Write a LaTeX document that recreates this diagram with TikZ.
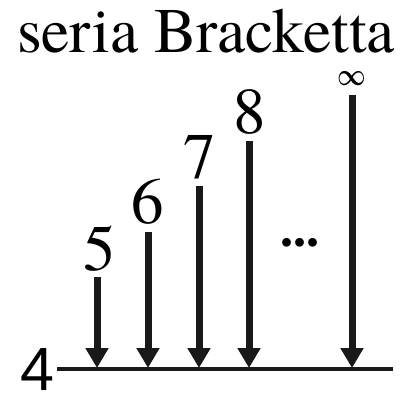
\documentclass[tikz,border=0pt]{standalone}
\usepackage{fontspec}
\setmainfont{texgyretermes}[Extension=.otf, UprightFont=*-regular, BoldFont=*-bold]
\newfontfamily\levelsans{Liberation Sans}
\usetikzlibrary{arrows.meta}

\begin{document}
\begin{tikzpicture}[
    x=1pt, y=-1pt,
    every node/.style={inner sep=0pt, text=black},
    title/.style={font=\fontsize{63.5}{63.5}\selectfont, anchor=base},
    numlabel/.style={font=\fontsize{65}{65}\selectfont, anchor=base},
    levelline/.style={line width=4pt, black!90},
    transition/.style={line width=7pt, black!90,
                -{Triangle[width=22pt,length=20pt]}}
]
  \useasboundingbox (0,0) rectangle (403,392);

  % --- Title ---
  \node[title] (title) at (206,52) {seria Bracketta};

  % --- Level n=4 ---
  \node[font=\levelsans\fontsize{61}{61}\selectfont, anchor=base] (lvl) at (37,390) {4};
  \coordinate (lineL) at (57,369);
  \coordinate (lineR) at (393,369);
  \draw[levelline] (lineL) -- (lineR);

  % --- Upper levels ---
  \node[numlabel] (n5) at (100,270) {5};
  \node[numlabel] (n6) at (148,223) {6};
  \node[numlabel] (n7) at (200,178) {7};
  \node[numlabel] (n8) at (250,133) {8};
  \node[font=\bfseries\fontsize{52}{52}\selectfont] (dots) at (300,243) {...};
  \node[font=\boldmath\fontsize{32}{32}\selectfont] (ninf) at (352,79)
    {\scalebox{1}[1.25]{$\infty$}};

  % --- Arrow starts and ends ---
  \coordinate (s5) at (97,277);   \coordinate (e5) at (97,368);
  \coordinate (s6) at (148,232);  \coordinate (e6) at (148,368);
  \coordinate (s7) at (199,186);  \coordinate (e7) at (199,368);
  \coordinate (s8) at (249,141);  \coordinate (e8) at (249,368);
  \coordinate (sinf) at (352,95); \coordinate (einf) at (352,368);

  % --- Transitions to n=4 ---
  \draw[transition] (s5) -- (e5);
  \draw[transition] (s6) -- (e6);
  \draw[transition] (s7) -- (e7);
  \draw[transition] (s8) -- (e8);
  \draw[transition] (sinf) -- (einf);
\end{tikzpicture}
\end{document}
